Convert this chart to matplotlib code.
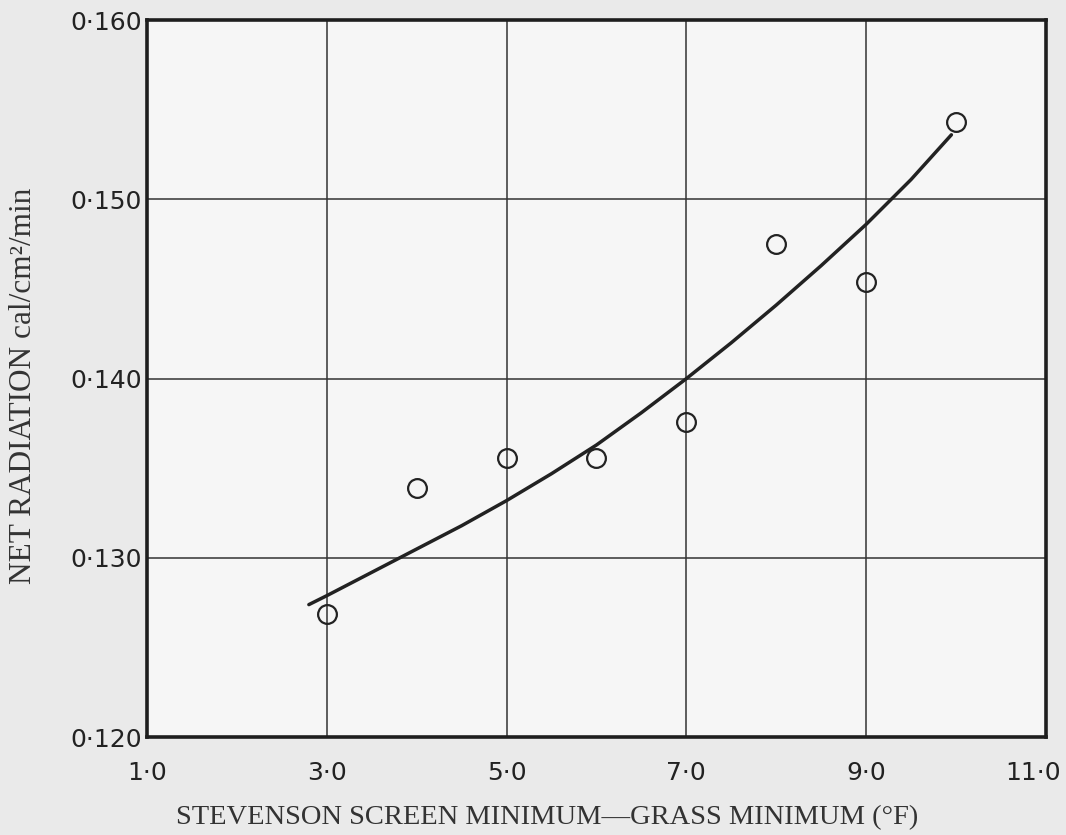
import matplotlib
matplotlib.use("Agg")
import matplotlib.pyplot as plt
import matplotlib.transforms as mtrans

# Observed points
obs_x = [3.0, 4.0, 5.0, 6.0, 7.0, 8.0, 9.0, 10.0]
obs_y = [0.1269, 0.1339, 0.1356, 0.1356, 0.1376, 0.1475, 0.1454, 0.1543]

# Fitted curve
curve_x = [2.8, 3.0, 3.5, 4.0, 4.5, 5.0, 5.5, 6.0, 6.5, 7.0, 7.5, 8.0, 8.5, 9.0, 9.5, 9.95]
curve_y = [0.1274, 0.1279, 0.1292, 0.1305, 0.1318, 0.1332, 0.1347, 0.1363, 0.1381, 0.1400,
           0.1420, 0.1441, 0.1463, 0.1486, 0.1511, 0.1536]

x_ticks = [1.0, 3.0, 5.0, 7.0, 9.0, 11.0]
x_tick_labels = ["1·0", "3·0", "5·0", "7·0", "9·0", "11·0"]
y_ticks = [0.120, 0.130, 0.140, 0.150, 0.160]
y_tick_labels = ["0·120", "0·130", "0·140", "0·150", "0·160"]

fig = plt.figure(figsize=(10.66, 8.35), dpi=100, facecolor="#eaeaea")
ax = fig.add_axes([0.138, 0.117, 0.843, 0.859])
ax.set_facecolor("#f6f6f6")

ax.set_xlim(1.0, 11.0)
ax.set_ylim(0.120, 0.160)
ax.set_xticks(x_ticks)
ax.set_xticklabels(x_tick_labels, fontsize=18, family="DejaVu Sans", color="#222222")
ax.set_yticks(y_ticks)
ax.set_yticklabels(y_tick_labels, fontsize=18, family="DejaVu Sans", color="#222222")
ax.tick_params(axis="y", length=0, pad=4)
ax.tick_params(axis="x", length=0, pad=17)
ax.grid(True, color="#333333", linewidth=1.1)
ax.set_axisbelow(True)
for s in ax.spines.values():
    s.set_linewidth(2.6)
    s.set_color("#1e1e1e")

# nudge last x tick label inside the figure, like the reference
last = ax.get_xticklabels()[-1]
last.set_transform(last.get_transform() + mtrans.ScaledTranslation(-13 / 100, 0, fig.dpi_scale_trans))

ax.plot(curve_x, curve_y, color="#222222", linewidth=2.5, zorder=3,
        solid_capstyle="round", solid_joinstyle="round")
ax.plot(obs_x, obs_y, linestyle="none", marker="o", markersize=13.5,
        markerfacecolor="none", markeredgecolor="#222222", markeredgewidth=1.6, zorder=4)

ax.set_xlabel("STEVENSON SCREEN MINIMUM—GRASS MINIMUM (°F)", fontsize=20.5,
              family="Liberation Serif", color="#333333")
ax.set_ylabel("NET RADIATION cal/cm²/min", fontsize=22.5,
              family="Liberation Serif", color="#333333")
ax.xaxis.set_label_coords(0.445, -0.094)
ax.yaxis.set_label_coords(-0.121, 0.49)

fig.savefig("out.png", dpi=100, facecolor=fig.get_facecolor())
